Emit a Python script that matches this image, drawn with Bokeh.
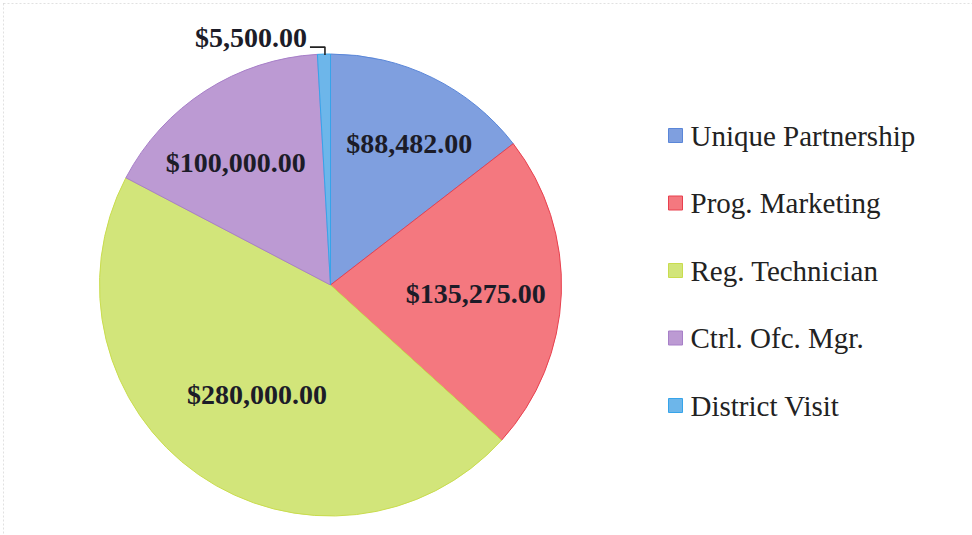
import math
from bokeh.plotting import figure
from bokeh.models import ColumnDataSource, Range1d, BoxAnnotation
from bokeh.core.properties import value
from bokeh.embed import file_html
from bokeh.resources import INLINE

categories = ["Unique Partnership", "Prog. Marketing", "Reg. Technician", "Ctrl. Ofc. Mgr.", "District Visit"]
amounts = [88482.00, 135275.00, 280000.00, 100000.00, 5500.00]
colors = ["#7F9FDF", "#F4787F", "#D2E57A", "#BC9AD3", "#6DB6EA"]
edge_colors = ["#5A86D8", "#E8404E", "#C9DC4E", "#A77FC8", "#36A4EA"]

# layout (pixels)
W, H = 972, 535
CX, CY, R = 330, 535 - 284.5, 231
label_r = [0.70, 0.63, 0.57, 0.67]
label_shift = [-3, -1, 1, 5]  # degrees
LEG_X, LEG_TOP, LEG_STEP, BOX = 675, 535 - 135, 67.5, 14

total = sum(amounts)
start, end, mids = [], [], []
acc = 0.0
for v in amounts:
    s = math.pi / 2 - 2 * math.pi * acc / total
    acc += v
    e = math.pi / 2 - 2 * math.pi * acc / total
    start.append(s)
    end.append(e)
    mids.append((s + e) / 2)

texts = [f"${v:,.2f}" for v in amounts]

src = ColumnDataSource(dict(cat=categories, amt=amounts, start=start, end=end,
                            color=colors, edge=edge_colors))

p = figure(width=W, height=H, output_backend="svg", toolbar_location=None,
           x_range=Range1d(0, W), y_range=Range1d(0, H), min_border=0)
p.axis.visible = False
p.grid.visible = False
p.outline_line_color = None
p.background_fill_color = "white"
p.border_fill_color = "white"

p.wedge(x=CX, y=CY, radius=R, start_angle="start", end_angle="end", direction="clock",
        fill_color="color", line_color="edge", line_width=1, source=src)

# inside labels
lx, ly, lt = [], [], []
for i in range(4):
    a = mids[i] + math.radians(label_shift[i])
    lx.append(CX + label_r[i] * R * math.cos(a))
    ly.append(CY + label_r[i] * R * math.sin(a))
    lt.append(texts[i])
p.text(x=lx, y=ly, text=lt, text_align="center", text_baseline="middle",
       text_font=value("Liberation Serif"), text_font_style="bold",
       text_font_size="28px", text_color="#1c1c28")

# outside label with leader for the small slice
a = mids[4]
ex, ey = CX + R * math.cos(a), CY + R * math.sin(a)
p.line(x=[ex - 14, ex + 1, ex + 1], y=[ey + 7, ey + 7, ey - 1], line_color="#222222", line_width=1.6)
p.text(x=[ex - 17], y=[ey + 17], text=[texts[4]], text_align="right", text_baseline="middle",
       text_font=value("Liberation Serif"), text_font_style="bold",
       text_font_size="28px", text_color="#1c1c28")

# legend
leg_y = [LEG_TOP - i * LEG_STEP for i in range(len(categories))]
leg = ColumnDataSource(dict(cat=categories, color=colors, edge=edge_colors,
                            x=[LEG_X] * len(categories), y=leg_y,
                            tx=[LEG_X + 15] * len(categories)))
p.rect(x="x", y="y", width=BOX, height=BOX, fill_color="color", line_color="edge",
       line_width=1, source=leg)
p.text(x="tx", y="y", text="cat", text_align="left", text_baseline="middle",
       text_font=value("Liberation Serif"), text_font_size="29px",
       text_color="#222222", source=leg)

# dotted chart border (top and left visible)
p.add_layout(BoxAnnotation(left=3, right=W + 20, bottom=-20, top=H - 3,
                           fill_alpha=0, line_color="#9a9a9a", line_dash="2 2", line_width=1))

open("out.html", "w").write(file_html(p, INLINE))
